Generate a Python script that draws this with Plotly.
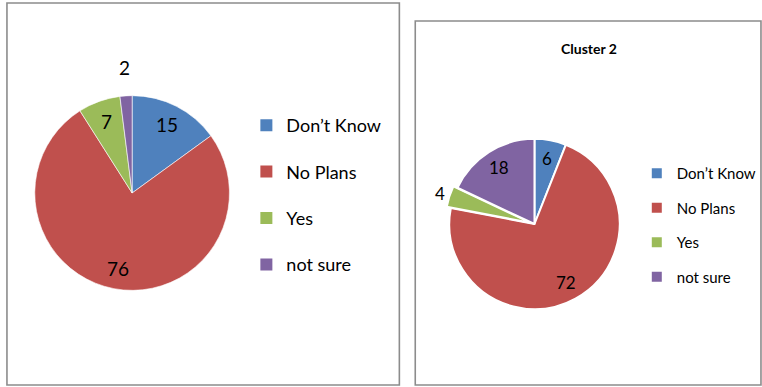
import math
import plotly.graph_objects as go

# Survey answers for the two clusters
categories = ["Don\u2019t Know", "No Plans", "Yes", "not sure"]
cluster1_values = [15, 76, 7, 2]
cluster2_values = [6, 72, 4, 18]
cluster2_title = "Cluster 2"

colors = ["#4F81BD", "#C0504D", "#9BBB59", "#8064A2"]

W, H = 762, 387
FONT = "Lato, 'Open Sans', sans-serif"


def px_x(x):
    return x / W


def px_y(y):
    return 1 - y / H


# Pie placement in pixels: centre, box size, pull of exploded slices,
# and how far from the centre the value labels sit (fraction of radius)
left_pie = dict(cx=133, cy=193, box=196, pull=[0, 0, 0, 0],
                line=0.6, text_size=19, inside=0.78, outside=1.28,
                where=["in", "in", "in", "out"])
right_pie = dict(cx=538, cy=224, box=180, pull=[0, 0, 0.05, 0],
                 line=2, text_size=17, inside=0.78, outside=1.12,
                 where=["in", "in", "out", "in"])

fig = go.Figure()
annotations = []


def add_pie(values, spec):
    half = spec["box"] / 2
    fig.add_trace(go.Pie(
        labels=categories,
        values=values,
        sort=False,
        direction="clockwise",
        rotation=0,
        pull=spec["pull"],
        marker=dict(colors=colors, line=dict(color="white", width=spec["line"])),
        textinfo="none",
        domain=dict(x=[px_x(spec["cx"] - half), px_x(spec["cx"] + half)],
                    y=[px_y(spec["cy"] + half), px_y(spec["cy"] - half)]),
        showlegend=False,
        hoverinfo="label+value",
    ))
    # radius of the drawn pie (plotly shrinks it to leave room for pulls)
    radius = spec["box"] / (2 + 2 * max(spec["pull"]))
    total = sum(values)
    start = 0.0
    for v, p, where in zip(values, spec["pull"], spec["where"]):
        mid = start + v / total * 180.0
        start += v / total * 360.0
        frac = spec["inside"] if where == "in" else spec["outside"]
        r = radius * (frac + p)
        x = spec["cx"] + r * math.sin(math.radians(mid))
        y = spec["cy"] - r * math.cos(math.radians(mid))
        annotations.append(dict(
            text=str(v), xref="paper", yref="paper",
            x=px_x(x), y=px_y(y), xanchor="center", yanchor="middle",
            showarrow=False,
            font=dict(family=FONT, size=spec["text_size"], color="black"),
        ))


add_pie(cluster1_values, left_pie)
add_pie(cluster2_values, right_pie)

# Legend entries, one group per category so the rows can be spaced out
for i, (cat, col) in enumerate(zip(categories, colors)):
    fig.add_trace(go.Scatter(
        x=[None], y=[None], mode="markers", name=cat,
        marker=dict(symbol="square", size=12, color=col),
        legendgroup=f"l{i}", legend="legend", hoverinfo="skip",
    ))
for i, (cat, col) in enumerate(zip(categories, colors)):
    fig.add_trace(go.Scatter(
        x=[None], y=[None], mode="markers", name=cat,
        marker=dict(symbol="square", size=10, color=col),
        legendgroup=f"r{i}", legend="legend2", hoverinfo="skip",
    ))

annotations.append(dict(
    text=f"<b>{cluster2_title}</b>", xref="paper", yref="paper",
    x=px_x(593), y=px_y(48), xanchor="center", yanchor="middle",
    showarrow=False, font=dict(family=FONT, size=14, color="black"),
))

border = dict(color="#8C8C8C", width=1.6)
fig.update_layout(
    width=W, height=H,
    margin=dict(l=0, r=0, t=0, b=0),
    paper_bgcolor="white", plot_bgcolor="white",
    xaxis=dict(visible=False), yaxis=dict(visible=False),
    font=dict(family=FONT, color="black"),
    legend=dict(
        x=px_x(248), y=px_y(107), xanchor="left", yanchor="top",
        font=dict(family=FONT, size=18, color="black"),
        tracegroupgap=20, bgcolor="rgba(0,0,0,0)",
    ),
    legend2=dict(
        x=px_x(641), y=px_y(157), xanchor="left", yanchor="top",
        font=dict(family=FONT, size=15, color="black"),
        tracegroupgap=12, bgcolor="rgba(0,0,0,0)",
    ),
    shapes=[
        dict(type="rect", xref="paper", yref="paper",
             x0=px_x(7), x1=px_x(402), y0=px_y(385), y1=px_y(3), line=border),
        dict(type="rect", xref="paper", yref="paper",
             x0=px_x(418), x1=px_x(766), y0=px_y(385), y1=px_y(21), line=border),
    ],
    annotations=annotations,
)

fig.write_html("out.html")
